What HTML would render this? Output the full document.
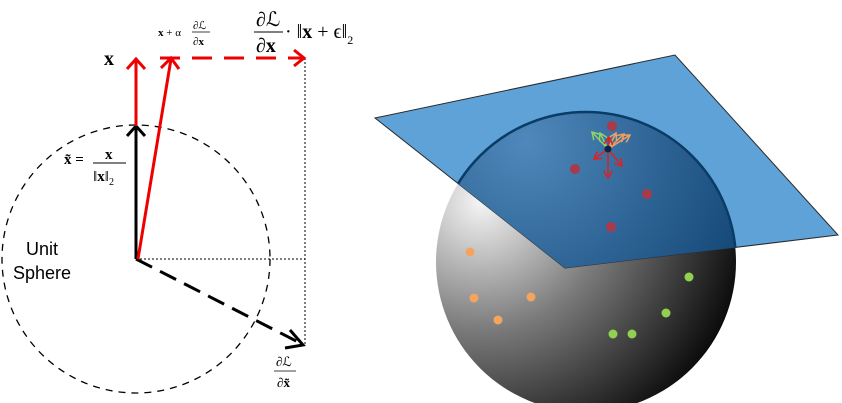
<!DOCTYPE html>
<html><head><meta charset="utf-8"><style>body{margin:0;background:#fff}svg{display:block}</style></head>
<body>
<svg width="842" height="403" viewBox="0 0 842 403" xmlns="http://www.w3.org/2000/svg" font-family="'Liberation Serif',serif">
<defs>
<radialGradient id="sg" cx="0.15" cy="0.3" r="0.95">
<stop offset="0" stop-color="#f5f5f5"/><stop offset="0.45" stop-color="#7a7a7a"/><stop offset="1" stop-color="#000"/>
</radialGradient>
<radialGradient id="bg" cx="0.3" cy="0.1" r="0.9">
<stop offset="0" stop-color="#4f88bb"/><stop offset="1" stop-color="#0c3f6e"/>
</radialGradient>
<clipPath id="pc"><polygon points="375,118 675,55 838,235 565,268"/></clipPath>
<marker id="mr" markerWidth="6" markerHeight="6" refX="5" refY="3" orient="auto"><polyline points="0,0 5,3 0,6" fill="none" stroke="#e02020" stroke-width="1"/></marker>
<marker id="mg" markerWidth="6" markerHeight="6" refX="5" refY="3" orient="auto"><polyline points="0,0 5,3 0,6" fill="none" stroke="#8fd16a" stroke-width="1"/></marker>
<marker id="mo" markerWidth="6" markerHeight="6" refX="5" refY="3" orient="auto"><polyline points="0,0 5,3 0,6" fill="none" stroke="#f0a060" stroke-width="1"/></marker>
</defs>
<!-- left -->
<circle cx="136" cy="259" r="134" fill="none" stroke="#000" stroke-width="1.3" stroke-dasharray="7,6"/>
<line x1="136" y1="259" x2="305" y2="259" stroke="#000" stroke-dasharray="2,2"/>
<line x1="305" y1="58" x2="305" y2="345" stroke="#000" stroke-dasharray="2,2"/>
<g stroke="#000" stroke-width="3" fill="none">
<line x1="136" y1="259" x2="300" y2="343" stroke-dasharray="18,9"/>
<polyline points="290,330 303,345 285,348"/>
</g>
<g stroke="#000" stroke-width="3" fill="none">
<line x1="136" y1="259" x2="136" y2="126"/><polyline points="127,136 136,126 145,136"/>
</g>
<g stroke="#e00" stroke-width="3" fill="none">
<line x1="136" y1="126" x2="136" y2="59"/><polyline points="127,69 136,59 145,69"/>
</g>
<g stroke="#e00" stroke-width="3" fill="none">
<line x1="138" y1="259" x2="171" y2="59"/><polyline points="161,68 171,58 179,69"/>
</g>
<g stroke="#e00" stroke-width="3" fill="none">
<line x1="160" y1="58" x2="303" y2="58" stroke-dasharray="20,12"/><polyline points="294,50 304,58 294,66"/>
</g>
<text x="104" y="65" font-size="20" font-weight="bold">x</text>
<text x="158" y="36" font-size="11"><tspan font-weight="bold">x</tspan> + α</text>
<text x="193" y="29" font-size="11">∂ℒ</text>
<line x1="192" y1="32" x2="210" y2="32" stroke="#000" stroke-width="0.8"/>
<text x="193" y="45" font-size="11">∂<tspan font-weight="bold">x</tspan></text>
<text x="256" y="26" font-size="20">∂ℒ</text>
<line x1="254" y1="32" x2="283" y2="32" stroke="#000"/>
<text x="256" y="52" font-size="20">∂<tspan font-weight="bold">x</tspan></text>
<text x="285" y="38" font-size="20">· ‖<tspan font-weight="bold">x</tspan> + ϵ‖<tspan font-size="12" dy="6">2</tspan></text>
<text x="64" y="164" font-size="15" font-weight="bold">x̃ =</text>
<text x="105" y="159" font-size="15" font-weight="bold">x</text>
<line x1="93" y1="163" x2="126" y2="163" stroke="#000"/>
<text x="93" y="181" font-size="15">‖<tspan font-weight="bold">x</tspan>‖<tspan font-size="10" dy="4">2</tspan></text>
<text x="42" y="255" font-size="18" text-anchor="middle" font-family="'Liberation Sans',sans-serif">Unit</text>
<text x="42" y="279" font-size="18" text-anchor="middle" font-family="'Liberation Sans',sans-serif">Sphere</text>
<text x="276" y="366" font-size="13">∂ℒ</text>
<line x1="274" y1="371" x2="296" y2="371" stroke="#000" stroke-width="0.8"/>
<text x="277" y="387" font-size="13">∂<tspan font-weight="bold">x̃</tspan></text>
<!-- right -->
<circle cx="586" cy="262" r="150" fill="url(#sg)"/>
<polygon points="375,118 675,55 838,235 565,268" fill="#5ea2d8" stroke="#2a2a2a" stroke-width="1"/>
<circle cx="586" cy="262" r="150" fill="url(#bg)" stroke="#0a3c66" stroke-width="2.5" clip-path="url(#pc)"/>
<g fill="#f4a460">
<circle cx="470" cy="252" r="4.5"/><circle cx="474" cy="298" r="4.5"/><circle cx="531" cy="297" r="4.5"/><circle cx="498" cy="320" r="4.5"/>
</g>
<g fill="#92d050">
<circle cx="689" cy="277" r="4.5"/><circle cx="666" cy="313" r="4.5"/><circle cx="613" cy="334" r="4.5"/><circle cx="632" cy="334" r="4.5"/>
</g>
<g fill="#a83a4a">
<circle cx="575" cy="169" r="5"/><circle cx="647" cy="194" r="5"/><circle cx="611" cy="227" r="5"/><circle cx="612" cy="126" r="5"/>
</g>
<g fill="none" stroke-width="1.5">
<g stroke="#8fd16a" marker-end="url(#mg)"><line x1="608" y1="149" x2="592" y2="132"/><line x1="608" y1="149" x2="600" y2="133"/></g>
<g stroke="#f0a060" marker-end="url(#mo)"><line x1="608" y1="149" x2="616" y2="133"/><line x1="608" y1="149" x2="624" y2="134"/><line x1="608" y1="149" x2="630" y2="135"/></g>
<g stroke="#e02020" marker-end="url(#mr)"><line x1="608" y1="149" x2="608" y2="178"/><line x1="608" y1="149" x2="594" y2="159"/><line x1="608" y1="149" x2="622" y2="166"/><line x1="608" y1="149" x2="609" y2="137"/></g>
<circle cx="608" cy="149" r="3.5" fill="#0b2545" stroke="none"/>
</g>
</svg>
</body></html>
